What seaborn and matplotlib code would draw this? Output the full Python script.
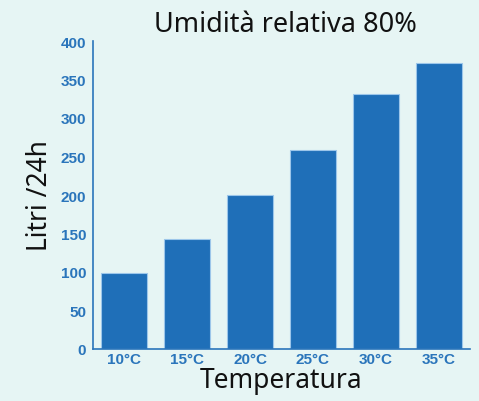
import matplotlib
matplotlib.use("Agg")
import matplotlib.pyplot as plt
import seaborn as sns
import pandas as pd
import numpy as np

categories = ["10°C", "15°C", "20°C", "25°C", "30°C", "35°C"]
values = [99, 143, 200, 259, 331, 371]
yticks = [0, 50, 100, 150, 200, 250, 300, 350, 400]

bg = "#e6f5f4"
blue = "#1f6fb8"
axcol = "#2a75bb"

sns.set_theme(style="white")
plt.rcParams['font.family'] = ['Noto Sans', 'DejaVu Sans']

fig = plt.figure(figsize=(4.79, 4.02), dpi=100, facecolor=bg)
ax = fig.add_axes([93/479, 1-350/402, 377/479, 308/402])
ax.set_facecolor(bg)

df = pd.DataFrame({"cat": categories, "val": values})
sns.barplot(data=df, x="cat", y="val", color=blue, saturation=1, width=0.73,
            edgecolor="#9cc6ea", linewidth=0.8, ax=ax)

tickfont = dict(family=["Liberation Sans", "DejaVu Sans"], weight="bold",
                size=11, color=axcol)
ax.set_xlim(-0.5, len(categories) - 0.5)
ax.set_ylim(0, 400)
ax.set_yticks(yticks)
ax.set_yticklabels([str(v) for v in yticks], **tickfont)
ax.set_xticklabels(categories, **tickfont)
ax.tick_params(axis="y", direction="in", length=9, width=1, color=axcol, pad=5)
ax.tick_params(axis="x", which="major", length=0, pad=2)
ax.set_xticks(np.arange(len(categories)) + 0.5, minor=True)
ax.tick_params(axis="x", which="minor", direction="in", length=7, width=1, color=axcol)

for s in ["top", "right"]:
    ax.spines[s].set_visible(False)
for s in ["left", "bottom"]:
    ax.spines[s].set_color(axcol)
    ax.spines[s].set_linewidth(1.2)

ax.set_xlabel("Temperatura", fontsize=19, color="#111111", labelpad=0)
ax.set_ylabel("Litri /24h", fontsize=19, color="#111111", labelpad=5)
fig.text(285/479, 1-25/402, "Umidità relativa 80%", fontsize=19.5, color="#111111",
         ha="center", va="center")

fig.savefig("out.png", dpi=100, facecolor=bg)
